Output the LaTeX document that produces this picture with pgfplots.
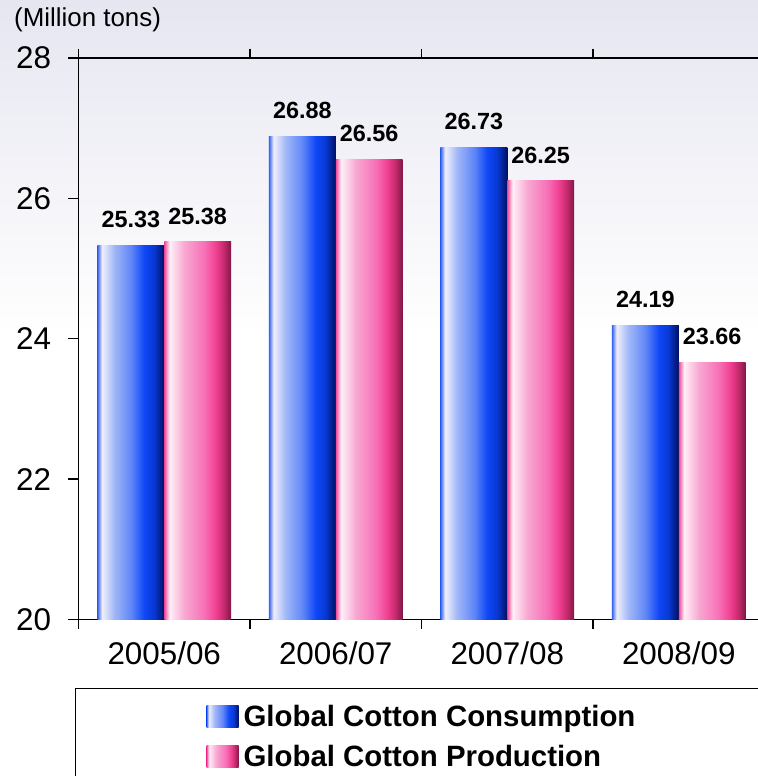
\documentclass[border=0pt]{standalone}
\usepackage{pgfplots}
\pgfplotsset{compat=1.18}
\usepackage{fontspec}
\setmainfont{Liberation Sans}
\setsansfont{Liberation Sans}

\definecolor{bgtop}{RGB}{230,230,241}

% horizontal gradients of the bars (path maps to 25bp..75bp)
\pgfdeclarehorizontalshading{bluebar}{100bp}{%
  rgb(0bp)=(0.19,0.38,0.94); rgb(25bp)=(0.19,0.38,0.94);
  rgb(28.5bp)=(0.94,0.93,0.98); rgb(31bp)=(0.86,0.88,0.98);
  rgb(37.5bp)=(0.63,0.72,0.97); rgb(50bp)=(0.38,0.53,0.97);
  rgb(60bp)=(0.06,0.28,0.97); rgb(67.5bp)=(0.03,0.22,0.82);
  rgb(75bp)=(0,0.06,0.38); rgb(100bp)=(0,0.06,0.38)}
\pgfdeclarehorizontalshading{pinkbar}{100bp}{%
  rgb(0bp)=(0.94,0.28,0.6); rgb(25bp)=(0.94,0.28,0.6);
  rgb(29bp)=(1,0.94,0.97); rgb(40bp)=(0.97,0.66,0.82);
  rgb(55bp)=(0.97,0.44,0.72); rgb(64bp)=(0.94,0.24,0.56);
  rgb(70bp)=(0.75,0.16,0.41); rgb(75bp)=(0.5,0.09,0.28);
  rgb(100bp)=(0.5,0.09,0.28)}

\pgfplotsset{
  cons/.style={bar shift=-0.195, draw=none, shade, shading=bluebar, shading angle=0,
    legend image code/.code={\shade[shading=bluebar] (0bp,-11bp) rectangle (32bp,11bp);}},
  prod/.style={bar shift=0.195, draw=none, shade, shading=pinkbar, shading angle=0,
    legend image code/.code={\shade[shading=pinkbar] (0bp,-11bp) rectangle (32bp,11bp);}},
}

\begin{document}
\begin{tikzpicture}
\path[use as bounding box] (0,0) rectangle (758bp,776bp);
\clip (0,0) rectangle (758bp,776bp);
\shade[top color=bgtop, bottom color=white] (0,440bp) rectangle (758bp,776bp);
\begin{axis}[
  at={(78.5bp,156.5bp)}, anchor=south west,
  scale only axis, width=686bp, height=561.5bp,
  ybar, bar width=0.39,
  xmin=-0.5, xmax=3.5, ymin=20, ymax=28,
  ytick={20,22,...,28},
  xtick={0,1,2,3},
  xticklabels={2005/06,2006/07,2007/08,2008/09},
  minor xtick={-0.5,0.5,1.5,2.5},
  tick align=outside,
  major tick length=10bp, minor tick length=9bp,
  major x tick style={draw=none},
  tick style={line width=1.5bp, black},
  axis line style={line width=1.6bp},
  /pgf/number format/assume math mode=true,
  ticklabel style={font=\fontsize{31.5}{32}\selectfont},
  xticklabel style={yshift=-9bp},
  yticklabel style={xshift=-14bp},
  title={(Million tons)},
  title style={at={(0,1)}, anchor=base west, xshift=-64.5bp, yshift=26bp,
    inner sep=0pt, font=\fontsize{26}{27}\selectfont},
  nodes near coords,
  nodes near coords style={font=\bfseries\fontsize{23.5}{24}\selectfont,
    black, yshift=14bp,
    /pgf/number format/.cd, fixed, fixed zerofill, precision=2},
  legend style={at={(0,0)}, anchor=north west, xshift=-3.5bp, yshift=-68bp,
    draw=black, line width=1.2bp, fill=white,
    inner xsep=131bp, inner ysep=15bp, row sep=13bp,
    nodes={inner sep=2bp},
    /tikz/every odd column/.style={column sep=3bp},
    font=\bfseries\fontsize{29.5}{30}\selectfont},
  legend cell align=left,
]
\addplot[cons] coordinates {(0,25.33)};
\addlegendentry{Global Cotton Consumption}
\addplot[prod] coordinates {(0,25.38)};
\addlegendentry{Global Cotton Production}
\addplot[cons, forget plot] coordinates {(1,26.88)};
\addplot[cons, forget plot] coordinates {(2,26.73)};
\addplot[cons, forget plot] coordinates {(3,24.19)};
\addplot[prod, forget plot] coordinates {(1,26.56)};
\addplot[prod, forget plot] coordinates {(2,26.25)};
\addplot[prod, forget plot] coordinates {(3,23.66)};
\end{axis}
\end{tikzpicture}
\end{document}
